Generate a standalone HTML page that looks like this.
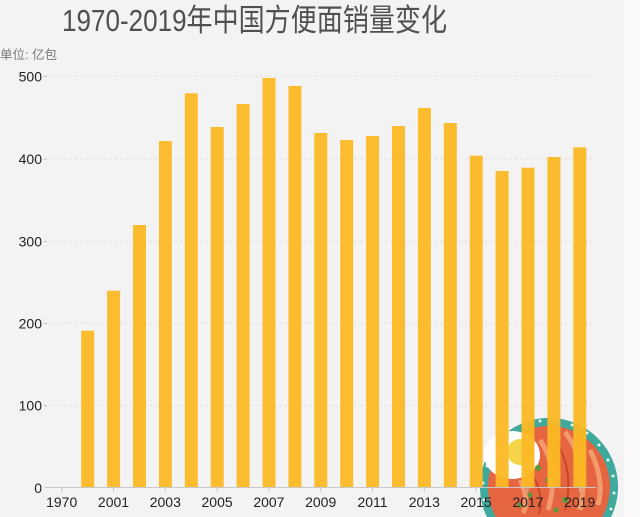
<!DOCTYPE html>
<html><head><meta charset="utf-8">
<style>
html,body{margin:0;padding:0;background:#fbf9fa;width:640px;height:517px;overflow:hidden;}
svg{display:block;position:absolute;left:0;top:0;}
text{font-family:"Liberation Sans","Noto Sans CJK SC",sans-serif;}
</style></head>
<body>
<svg width="640" height="517" viewBox="0 0 640 517" xmlns="http://www.w3.org/2000/svg" overflow="hidden">
<rect x="0" y="0" width="624" height="517" fill="#f4f3f4"/>
<rect x="624" y="0" width="16" height="517" fill="#fbf9fa"/>
<text x="254.5" y="31" font-size="31" fill="#505050" text-anchor="middle" textLength="385" lengthAdjust="spacingAndGlyphs">1970-2019年中国方便面销量变化</text>
<text x="0" y="59" font-size="12.5" fill="#777">单位: 亿包</text>
<g stroke="#dcdcdc" stroke-width="1" stroke-dasharray="2,3">
<line x1="50" y1="76.3" x2="592" y2="76.3"/>
<line x1="50" y1="159" x2="592" y2="159"/>
<line x1="50" y1="241.5" x2="592" y2="241.5"/>
<line x1="50" y1="323.5" x2="592" y2="323.5"/>
<line x1="50" y1="405.7" x2="592" y2="405.7"/>
</g>
<g stroke="#bbb" stroke-width="1">
<line x1="44" y1="76.3" x2="47" y2="76.3"/>
<line x1="44" y1="159" x2="47" y2="159"/>
<line x1="44" y1="241.5" x2="47" y2="241.5"/>
<line x1="44" y1="323.5" x2="47" y2="323.5"/>
<line x1="44" y1="405.7" x2="47" y2="405.7"/>
</g>
<g font-size="14" fill="#222" text-anchor="end">
<text x="42" y="81.3">500</text>
<text x="42" y="164">400</text>
<text x="42" y="246.5">300</text>
<text x="42" y="328.5">200</text>
<text x="42" y="410.7">100</text>
<text x="42" y="493">0</text>
</g>
<!-- bowl -->
<g>
<path d="M486.9 517 A69 69 0 1 1 611.1 517 Z" fill="#3fa99c"/>
<g fill="#e6f4f1">
<circle cx="498" cy="450" r="1.5"/><circle cx="510" cy="438" r="1.5"/><circle cx="524" cy="427" r="1.5"/>
<circle cx="540" cy="421" r="1.5"/><circle cx="556" cy="420" r="1.5"/><circle cx="572" cy="425" r="1.5"/>
<circle cx="587" cy="433" r="1.5"/><circle cx="599" cy="445" r="1.5"/><circle cx="608" cy="460" r="1.5"/>
<circle cx="613" cy="476" r="1.5"/><circle cx="614" cy="493" r="1.5"/><circle cx="611" cy="509" r="1.5"/>
<circle cx="487" cy="466" r="1.5"/><circle cx="483" cy="483" r="1.5"/><circle cx="484" cy="500" r="1.5"/>
</g>
<path d="M495.9 517 A61 61 0 1 1 602.1 517 Z" fill="#e4653f"/>
<g stroke="#f29a6c" stroke-width="5" fill="none">
<path d="M540 440 Q560 470 548 510"/>
<path d="M565 432 Q590 465 580 510"/>
<path d="M520 480 Q530 500 523 513"/>
<path d="M590 450 Q605 480 598 505"/>
</g>
<g stroke="#c8462a" stroke-width="2" fill="none">
<path d="M555 440 Q575 470 565 510"/>
<path d="M530 470 Q545 495 539 514"/>
</g>
<ellipse cx="512" cy="455" rx="28" ry="24" fill="#ffffff"/>
<circle cx="520" cy="452" r="13" fill="#f6d44a"/>
<g fill="#5a9a3a">
<circle cx="538" cy="468" r="3"/><circle cx="548" cy="480" r="2.5"/><circle cx="565" cy="500" r="3"/>
<circle cx="530" cy="495" r="2.5"/><circle cx="578" cy="485" r="2.5"/><circle cx="556" cy="510" r="2.5"/>
<circle cx="520" cy="505" r="2.5"/>
</g>
</g>
<!-- bars -->
<g fill="#fcb824" fill-opacity="0.95">
<rect x="81.2" y="330.7" width="13" height="157.3"/>
<rect x="107.1" y="290.7" width="13" height="197.3"/>
<rect x="133" y="225" width="13" height="263"/>
<rect x="158.9" y="141" width="13" height="347"/>
<rect x="184.8" y="93.3" width="13" height="394.7"/>
<rect x="210.7" y="127" width="13" height="361"/>
<rect x="236.6" y="104" width="13" height="384"/>
<rect x="262.5" y="78" width="13" height="410"/>
<rect x="288.4" y="86" width="13" height="402"/>
<rect x="314.3" y="133" width="13" height="355"/>
<rect x="340.2" y="140" width="13" height="348"/>
<rect x="366.1" y="136" width="13" height="352"/>
<rect x="392" y="126" width="13" height="362"/>
<rect x="417.9" y="108" width="13" height="380"/>
<rect x="443.8" y="123" width="13" height="365"/>
<rect x="469.7" y="155.7" width="13" height="332.3"/>
<rect x="495.6" y="171" width="13" height="317"/>
<rect x="521.5" y="167.7" width="13" height="320.3"/>
<rect x="547.4" y="157" width="13" height="331"/>
<rect x="573.3" y="147.3" width="13" height="340.7"/>
</g>
<line x1="45" y1="487.5" x2="596" y2="487.5" stroke="#c8c8c8" stroke-width="1"/>
<g stroke="#c8c8c8" stroke-width="1">
<line x1="61.7" y1="488" x2="61.7" y2="492"/>
<line x1="113.5" y1="488" x2="113.5" y2="492"/>
<line x1="165.3" y1="488" x2="165.3" y2="492"/>
<line x1="217.1" y1="488" x2="217.1" y2="492"/>
<line x1="268.9" y1="488" x2="268.9" y2="492"/>
<line x1="320.7" y1="488" x2="320.7" y2="492"/>
<line x1="372.5" y1="488" x2="372.5" y2="492"/>
<line x1="424.3" y1="488" x2="424.3" y2="492"/>
<line x1="476.1" y1="488" x2="476.1" y2="492"/>
<line x1="527.9" y1="488" x2="527.9" y2="492"/>
<line x1="579.7" y1="488" x2="579.7" y2="492"/>
</g>
<g font-size="14" fill="#222" text-anchor="middle">
<text x="61.7" y="507">1970</text>
<text x="113.5" y="507">2001</text>
<text x="165.3" y="507">2003</text>
<text x="217.1" y="507">2005</text>
<text x="268.9" y="507">2007</text>
<text x="320.7" y="507">2009</text>
<text x="372.5" y="507">2011</text>
<text x="424.3" y="507">2013</text>
<text x="476.1" y="507">2015</text>
<text x="527.9" y="507">2017</text>
<text x="579.7" y="507">2019</text>
</g>
</svg>
</body></html>
